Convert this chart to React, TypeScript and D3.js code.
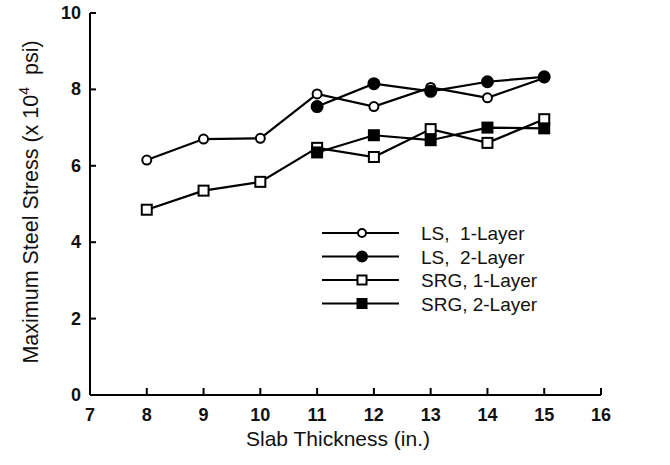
import React from "react";
import * as d3 from "d3";

const thickness = [8, 9, 10, 11, 12, 13, 14, 15];
const ls1 = [6.15, 6.7, 6.72, 7.88, 7.55, 8.05, 7.78, 8.3];
const ls2Thickness = [11, 12, 13, 14, 15];
const ls2 = [7.55, 8.15, 7.95, 8.2, 8.33];
const srg1 = [4.85, 5.35, 5.58, 6.47, 6.23, 6.96, 6.6, 7.22];
const srg2Thickness = [11, 12, 13, 14, 15];
const srg2 = [6.35, 6.8, 6.67, 7.0, 6.98];
const xTicks = [7, 8, 9, 10, 11, 12, 13, 14, 15, 16];
const yTicks = [0, 2, 4, 6, 8, 10];
const legendLabels = ["LS,  1-Layer", "LS,  2-Layer", "SRG, 1-Layer", "SRG, 2-Layer"];

type Series = { xs: number[]; ys: number[]; marker: "circle" | "square"; filled: boolean };

export default function App() {
  const W = 670, H = 465;
  const x = d3.scaleLinear().domain([7, 16]).range([90, 601]);
  const y = d3.scaleLinear().domain([0, 10]).range([395, 13]);
  const line = d3.line<[number, number]>().x(d => x(d[0])).y(d => y(d[1]));
  const series: Series[] = [
    { xs: thickness, ys: ls1, marker: "circle", filled: false },
    { xs: ls2Thickness, ys: ls2, marker: "circle", filled: true },
    { xs: thickness, ys: srg1, marker: "square", filled: false },
    { xs: srg2Thickness, ys: srg2, marker: "square", filled: true },
  ];
  const font = "Liberation Sans, Arial, Helvetica, sans-serif";
  const marker = (m: "circle" | "square", filled: boolean, cx: number, cy: number, key: string, small = false) =>
    m === "circle" ? (
      <circle key={key} cx={cx} cy={cy} r={(filled ? 5.5 : 4.5) - (small ? 0.5 : 0)} fill={filled ? "#000" : "#fff"} stroke="#000" strokeWidth={2} />
    ) : (
      <rect key={key} x={cx - (small ? 4.5 : 5)} y={cy - (small ? 4.5 : 5)} width={small ? 9 : 10} height={small ? 9 : 10} fill={filled ? "#000" : "#fff"} stroke="#000" strokeWidth={2} />
    );
  return (
    <svg width={W} height={H} style={{ position: "absolute", left: 0, top: 0, background: "#fff" }} fontFamily={font}>
      <rect width={W} height={H} fill="#fff" />
      {/* axes */}
      <line x1={x(7)} x2={x(7)} y1={y(10)} y2={y(0)} stroke="#000" strokeWidth={2} />
      <line x1={x(7)} x2={x(16)} y1={y(0)} y2={y(0)} stroke="#000" strokeWidth={2} />
      {yTicks.map(t => (
        <g key={"y" + t}>
          <line x1={x(7)} x2={x(7) + 6} y1={y(t)} y2={y(t)} stroke="#000" strokeWidth={2} />
          <text x={x(7) - 9} y={y(t) + 6} textAnchor="end" fontSize={18} fontWeight="bold" fill="#111">{t}</text>
        </g>
      ))}
      {xTicks.map(t => (
        <g key={"x" + t}>
          {t > 7 && <line x1={x(t)} x2={x(t)} y1={y(0)} y2={y(0) - 7} stroke="#000" strokeWidth={2} />}
          <text x={x(t)} y={y(0) + 26} textAnchor="middle" fontSize={18} fontWeight="bold" fill="#111">{t}</text>
        </g>
      ))}
      <text x={338} y={446} textAnchor="middle" fontSize={21} fill="#111">Slab Thickness (in.)</text>
      <text transform="translate(38,202) rotate(-90)" textAnchor="middle" fontSize={21.5} fill="#111">
        Maximum Steel Stress (x 10<tspan dy={-9} fontSize={14}>4</tspan><tspan dy={9}>{"\u00a0\u00a0psi)"}</tspan>
      </text>
      {/* series */}
      {series.map((s, i) => (
        <g key={"s" + i}>
          <path d={line(s.xs.map((v, j) => [v, s.ys[j]] as [number, number])) || ""} fill="none" stroke="#000" strokeWidth={2.2} />
        </g>
      ))}
      {series.map((s, i) => (
        <g key={"m" + i}>{s.xs.map((v, j) => marker(s.marker, s.filled, x(v), y(s.ys[j]), i + "-" + j))}</g>
      ))}
      {/* legend */}
      {legendLabels.map((lab, i) => {
        const ly = 233 + i * 23.5;
        const s = series[i];
        return (
          <g key={"l" + i}>
            <line x1={322} x2={399} y1={ly} y2={ly} stroke="#000" strokeWidth={2.2} />
            {marker(s.marker, s.filled, 362, ly, "lm" + i, true)}
            <text x={421} y={ly + 7} fontSize={19} fill="#111" style={{ whiteSpace: "pre" }}>{lab}</text>
          </g>
        );
      })}
    </svg>
  );
}
